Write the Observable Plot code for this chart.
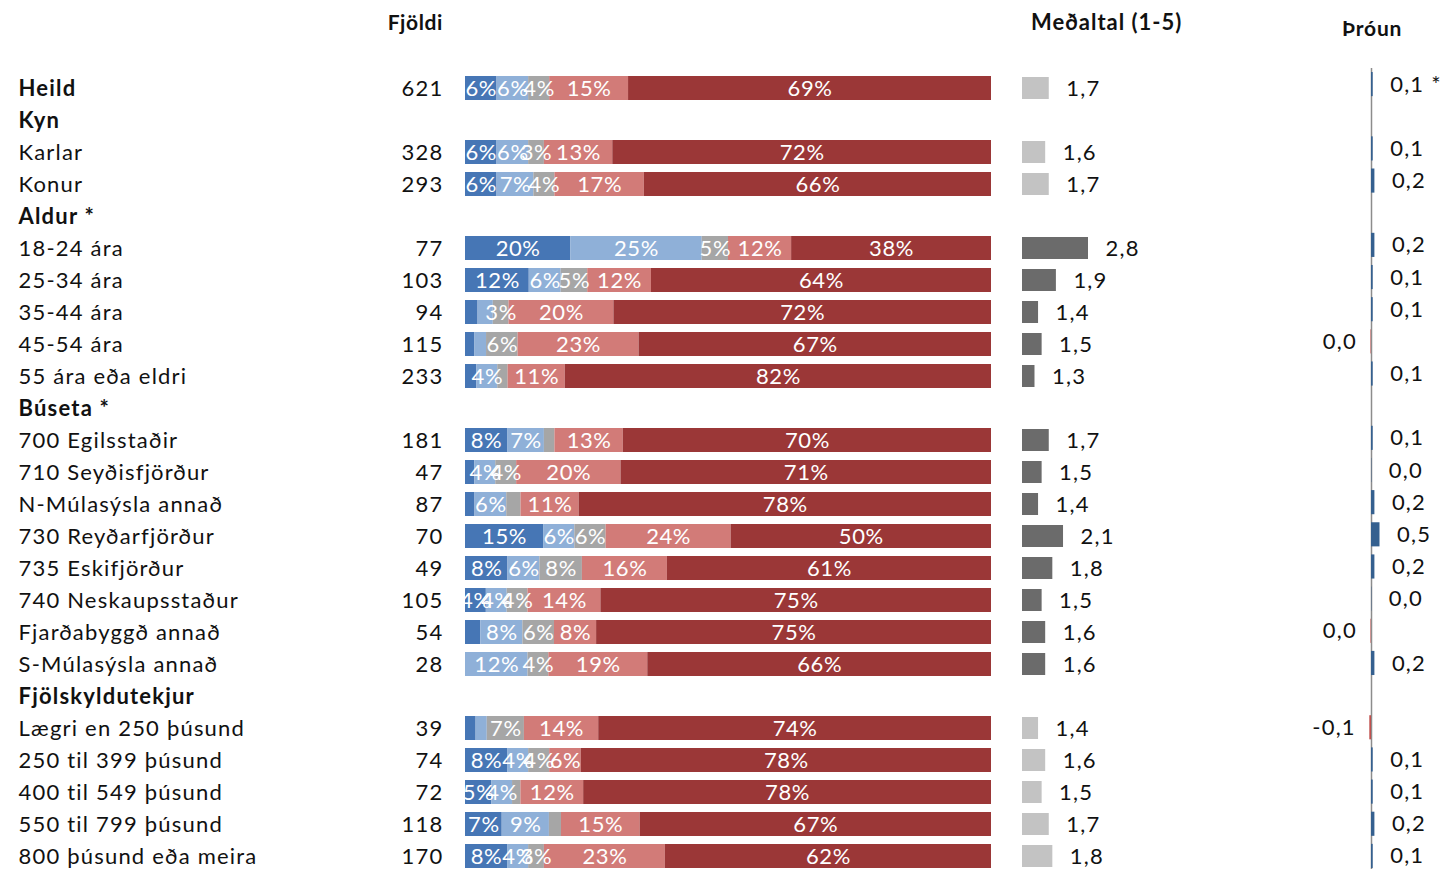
<!DOCTYPE html>
<html><head><meta charset="utf-8">
<script src="https://cdn.jsdelivr.net/npm/d3@7"></script>
<script src="https://cdn.jsdelivr.net/npm/@observablehq/plot@0.6"></script>
<style>
body{margin:0;background:#fff;}
#chart{position:relative;width:1444px;height:869px;overflow:hidden;font-family:Lato,"Open Sans",sans-serif;}
#chart > svg{position:absolute;top:0;}
.h{position:absolute;font-weight:bold;color:#111;white-space:nowrap;letter-spacing:0.6px;}
</style></head><body><div id="chart"></div>
<script>
// ---------- data ----------
const rows = ["Heild","Kyn","Karlar","Konur","Aldur *","18-24 ára","25-34 ára","35-44 ára","45-54 ára","55 ára eða eldri","Búseta *","700 Egilsstaðir","710 Seyðisfjörður","N-Múlasýsla annað","730 Reyðarfjörður","735 Eskifjörður","740 Neskaupsstaður","Fjarðabyggð annað","S-Múlasýsla annað","Fjölskyldutekjur","Lægri en 250 þúsund","250 til 399 þúsund","400 til 549 þúsund","550 til 799 þúsund","800 þúsund eða meira"];
const headerRows = ["Heild","Kyn","Aldur *","Búseta *","Fjölskyldutekjur"];
const groups = ["Heild","Kyn","Kyn","Kyn","Aldur","Aldur","Aldur","Aldur","Aldur","Aldur","Búseta","Búseta","Búseta","Búseta","Búseta","Búseta","Búseta","Búseta","Búseta","Tekjur","Tekjur","Tekjur","Tekjur","Tekjur","Tekjur"];
const significantGroups = ["Aldur","Búseta"];
const counts = [621,null,328,293,null,77,103,94,115,233,null,181,47,87,70,49,105,54,28,null,39,74,72,118,170];

const categories = ["c1","c2","c3","c4","c5"];
const share1 = [6,null,6,6,null,20,12,2.4,1.8,2.2,null,8,1.8,1.8,15,8,4,2.9,0,null,2,8,5,7,8];
const share2 = [6,null,6,7,null,25,6,2.9,2.2,4,null,7,4,6,6,6,4,8,12,null,2.1,4,4,9,4];
const share3 = [4,null,3,4,null,5,5,3,6,2,null,2,4,2.7,6,8,4,6,4,null,7,4,1.6,2.3,3];
const share4 = [15,null,13,17,null,12,12,20,23,11,null,13,20,11,24,16,14,8,19,null,14,6,12,15,23];
const share5 = [69,null,72,66,null,38,64,72,67,82,null,70,71,78,50,61,75,75,66,null,74,78,78,67,62];

const means = [1.7,null,1.6,1.7,null,2.8,1.9,1.4,1.5,1.3,null,1.7,1.5,1.4,2.1,1.8,1.5,1.6,1.6,null,1.4,1.6,1.5,1.7,1.8];
const meanAxisMin = 0.95;
const trends = [0.1,null,0.1,0.2,null,0.2,0.1,0.1,-0.03,0.1,null,0.1,0.02,0.2,0.5,0.2,0.02,-0.03,0.2,null,-0.1,0.1,0.1,0.2,0.1];
const trendNotes = ["*","","","","","","","","","","","","","","","","","","","","","","","",""];

// ---------- styling ----------
const catColors = ["#4676b5","#8fb0d8","#a6a6a6","#d27b78","#9b3737"];
const FONT = 'Lato, "Open Sans", sans-serif';
const H = 869;
const yScale = {type:"band", domain: rows, range:[72,872], paddingInner:0.25, paddingOuter:0.125, round:false};
const baseStyle = {fontFamily: FONT, fontSize: "22px", letterSpacing: "1.2px", color:"#111", background:"transparent", overflow:"visible"};
const fmt = v => (Math.round(v*10)/10).toFixed(1).replace(".", ",");

const table = rows.map((r,i)=>({row:r, i, count:counts[i], mean:means[i], trend:trends[i], note:trendNotes[i], group:groups[i], bold: headerRows.includes(r)}));
const shares = [share1,share2,share3,share4,share5];
const long = [];
rows.forEach((r,i)=>{ if (share1[i]==null) return; categories.forEach((c,k)=>long.push({row:r, cat:c, value:shares[k][i]})); });

const chart = document.getElementById("chart");
function place(svg, left){ svg.style.left = left+"px"; chart.appendChild(svg); }

// labels + counts
place(Plot.plot({
  width:460, height:H, marginLeft:18, marginRight:17, marginTop:72, marginBottom:0,
  style: baseStyle, y: {...yScale, axis:null}, x:{axis:null},
  marks:[
    Plot.text(table.filter(d=>!d.bold), {y:"row", text:"row", frameAnchor:"left", textAnchor:"start", fill:"#111", fontSize:22}),
    Plot.text(table.filter(d=>d.bold), {y:"row", text:"row", frameAnchor:"left", textAnchor:"start", fill:"#111", fontSize:22, fontWeight:"bold"}),
    Plot.text(table.filter(d=>d.count!=null), {y:"row", text:d=>String(d.count), frameAnchor:"right", textAnchor:"end", fill:"#111", fontSize:22})
  ]
}), 0);

// stacked distribution bars
place(Plot.plot({
  width:526, height:H, marginLeft:0, marginRight:0, marginTop:72, marginBottom:0,
  style: {...baseStyle, letterSpacing:"0.6px"}, y:{...yScale, axis:null}, x:{domain:[0,1], axis:null},
  color:{domain:categories, range:catColors},
  marks:[
    Plot.barX(long, Plot.stackX({x:"value", y:"row", fill:"cat", order:categories, offset:"normalize"})),
    Plot.text(long, Plot.stackX({x:"value", y:"row", z:"cat", order:categories, offset:"normalize",
      text:d=> d.value>=3 ? Math.round(d.value)+"%" : "", fill:"white", fontSize:22}))
  ]
}), 465);

// mean bars
place(Plot.plot({
  width:200, height:H, marginLeft:0, marginRight:0, marginTop:72, marginBottom:0,
  style: baseStyle, y:{...yScale, axis:null}, x:{domain:[meanAxisMin, 2.8], range:[0,66], axis:null},
  marks:[
    Plot.barX(table.filter(d=>d.mean!=null), {y:"row", x1:meanAxisMin, x2:"mean", insetTop:1, insetBottom:1,
      fill:d=> significantGroups.includes(d.group) ? "#6b6b6b" : "#c3c3c3"}),
    Plot.text(table.filter(d=>d.mean!=null), {y:"row", x:"mean", text:d=>fmt(d.mean), dx:17, textAnchor:"start", fill:"#111", fontSize:22})
  ]
}), 1022);

// trend bars
const trendY = {...yScale, range:[68,872]};
place(Plot.plot({
  width:164, height:H, marginLeft:0, marginRight:0, marginTop:68, marginBottom:0,
  style: baseStyle, y:{...trendY, axis:null}, x:{domain:[0,1], range:[91,108], axis:null},
  marks:[
    Plot.ruleX([0], {stroke:"#8c8c8c", strokeWidth:1.5}),
    Plot.barX(table.filter(d=>d.trend!=null), {y:"row", x1:0, x2:"trend", fill:d=>d.trend<0 ? "#c0504d" : "#35608f"}),
    Plot.text(table.filter(d=>d.trend!=null && d.trend>=0), {y:"row", x:"trend", text:d=>fmt(d.trend)+(d.note? " "+d.note:""), dx:17, textAnchor:"start", fill:"#111", fontSize:22}),
    Plot.text(table.filter(d=>d.trend!=null && d.trend<0), {y:"row", x:"trend", text:d=>fmt(d.trend), dx:-14, textAnchor:"end", fill:"#111", fontSize:22})
  ]
}), 1280);

// column headers
const heads = [
  {t:"Fjöldi", style:"right:1001px;top:9px;font-size:21px;"},
  {t:"Meðaltal (1-5)", style:"left:1031px;top:8px;font-size:22px;letter-spacing:1px;"},
  {t:"Þróun", style:"left:1342px;top:15px;font-size:21px;letter-spacing:0.8px;"}
];
heads.forEach(h=>{ const d=document.createElement("div"); d.className="h"; d.textContent=h.t; d.style.cssText+=h.style; chart.appendChild(d); });
</script>
</body></html>
